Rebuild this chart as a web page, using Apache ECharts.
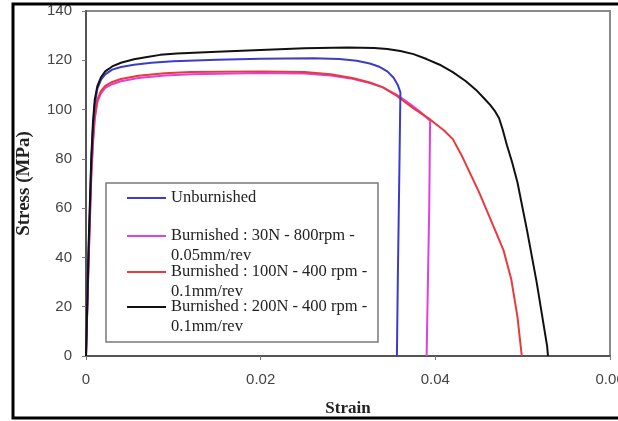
<!DOCTYPE html>
<html>
<head>
<meta charset="utf-8">
<script src="https://cdn.jsdelivr.net/npm/echarts@6/dist/echarts.min.js"></script>
<style>
html,body{margin:0;padding:0;background:#fff;}
#chart{width:618px;height:421px;}
</style>
</head>
<body>
<div id="chart"></div>
<script>
// ---- data (strain, stress MPa) ----
var seriesNames = [
  'Unburnished',
  'Burnished : 30N - 800rpm -\n0.05mm/rev',
  'Burnished : 100N - 400 rpm -\n0.1mm/rev',
  'Burnished : 200N - 400 rpm -\n0.1mm/rev'
];
var xTicks = [0, 0.02, 0.04, 0.06];
var yTicks = [0, 20, 40, 60, 80, 100, 120, 140];

var unburnished = [[0,0],[0.0003,42],[0.0006,78],[0.0008,93],[0.001,102],[0.0013,108.5],[0.0017,112],[0.0022,114.3],[0.003,116.2],[0.004,117.3],[0.0055,118.2],[0.0075,119],[0.01,119.6],[0.015,120.2],[0.02,120.6],[0.026,120.8],[0.029,120.5],[0.031,119.8],[0.0325,118.7],[0.0335,117.5],[0.0345,115.5],[0.0352,113],[0.0357,110],[0.036,107],[0.0359,80],[0.0357,30],[0.0356,0]];
var burn30 = [[0,0],[0.0003,38],[0.0006,72],[0.0008,86],[0.001,96],[0.0013,103],[0.0017,106.5],[0.0022,108.8],[0.003,110.3],[0.004,111.5],[0.006,112.8],[0.009,113.8],[0.012,114.3],[0.02,114.8],[0.025,114.6],[0.028,113.8],[0.0305,112.5],[0.0325,110.8],[0.034,109],[0.0356,106],[0.037,102.5],[0.0383,99],[0.0394,95.5],[0.0393,60],[0.0391,20],[0.039,0]];
var burn100 = [[0,0],[0.0003,40],[0.0006,74],[0.0008,88],[0.001,97],[0.0013,104],[0.0017,107.5],[0.0022,109.6],[0.003,111.2],[0.004,112.4],[0.006,113.7],[0.009,114.7],[0.012,115.2],[0.02,115.5],[0.025,115.2],[0.028,114.3],[0.0305,112.8],[0.0325,111],[0.034,109],[0.0356,105.5],[0.0375,100.5],[0.0394,96],[0.041,91.5],[0.042,88],[0.043,81.5],[0.044,74],[0.045,66.5],[0.0459,59],[0.0478,43],[0.0487,31],[0.0494,16],[0.0499,0]];
var burn200 = [[0,0],[0.0003,45],[0.0006,80],[0.0008,95],[0.001,104],[0.0013,109.5],[0.0017,113],[0.0022,115.5],[0.003,117.5],[0.004,119],[0.0055,120.4],[0.007,121.3],[0.0085,122.2],[0.0104,122.8],[0.015,123.5],[0.02,124.2],[0.025,124.9],[0.03,125.2],[0.033,125],[0.0345,124.6],[0.036,123.8],[0.0375,122.5],[0.039,120.5],[0.0405,118.2],[0.042,115.2],[0.0435,111.5],[0.0448,107.5],[0.0456,104.5],[0.0463,101.8],[0.0468,99.5],[0.0473,96.5],[0.0477,92],[0.0482,85.5],[0.0488,78.5],[0.0494,70.5],[0.0505,51],[0.0516,30],[0.0528,4],[0.0529,0]];

var seriesData = [unburnished, burn30, burn100, burn200];
var colors = ['#3c3cc8', '#e040e0', '#e83a3c', '#111111'];

var chart = echarts.init(document.getElementById('chart'));

var legendTops = [188, 206, 242, 277];
var legends = seriesNames.map(function (n, i) {
  var multi = n.indexOf('\n') >= 0;
  return {
    orient: 'vertical',
    left: 127,
    top: legendTops[i],
    padding: 0,
    itemWidth: 39,
    itemHeight: 2,
    itemGap: 0,
    icon: 'rect',
    data: [n],
    formatter: function (name) { return multi ? '\n' + name : name; },
    textStyle: {
      fontFamily: 'Liberation Serif',
      fontSize: 16.5,
      color: '#222',
      lineHeight: 20
    }
  };
});

chart.setOption({
  animation: false,
  color: colors,
  grid: {
    left: 86, right: 8, top: 11, bottom: 65,
    outerBoundsMode: 'none',
    containLabel: false,
    show: true, borderColor: '#8a8a8a', borderWidth: 2, backgroundColor: 'transparent'
  },
  legend: legends,
  graphic: [
    { type: 'rect', shape: { x: 106, y: 183, width: 272, height: 159 },
      style: { fill: 'transparent', stroke: '#7a7a7a', lineWidth: 1.5 }, z: 10 },
    { type: 'rect', shape: { x: 13, y: 4, width: 700, height: 414 },
      style: { fill: 'transparent', stroke: '#000', lineWidth: 3 }, z: 10 }
  ],
  xAxis: {
    type: 'value', min: xTicks[0], max: xTicks[xTicks.length - 1], interval: 0.02,
    name: 'Strain', nameLocation: 'middle', nameGap: 44,
    nameTextStyle: { fontFamily: 'Liberation Serif', fontSize: 17, fontWeight: 'bold', color: '#222' },
    axisLine: { lineStyle: { color: '#555', width: 2 } },
    axisTick: { show: true, length: 4, lineStyle: { color: '#777' } },
    axisLabel: { margin: 16, fontFamily: 'Liberation Sans', fontSize: 15, color: '#444' },
    splitLine: { show: false }
  },
  yAxis: {
    type: 'value', min: yTicks[0], max: yTicks[yTicks.length - 1], interval: 20,
    name: 'Stress (MPa)', nameLocation: 'middle', nameGap: 52,
    nameTextStyle: { fontFamily: 'Liberation Serif', fontSize: 19, fontWeight: 'bold', color: '#222' },
    axisLine: { lineStyle: { color: '#555', width: 2 } },
    axisTick: { show: true, length: 4, lineStyle: { color: '#777' } },
    axisLabel: { margin: 14, fontFamily: 'Liberation Sans', fontSize: 15, color: '#444' },
    splitLine: { show: false }
  },
  series: seriesData.map(function (d, i) {
    return {
      name: seriesNames[i], type: 'line', data: d, showSymbol: false, symbol: 'none',
      lineStyle: { width: 2, color: colors[i] },
      z: 2 + (i === 0 ? 3 : i)
    };
  })
});
</script>
</body>
</html>
